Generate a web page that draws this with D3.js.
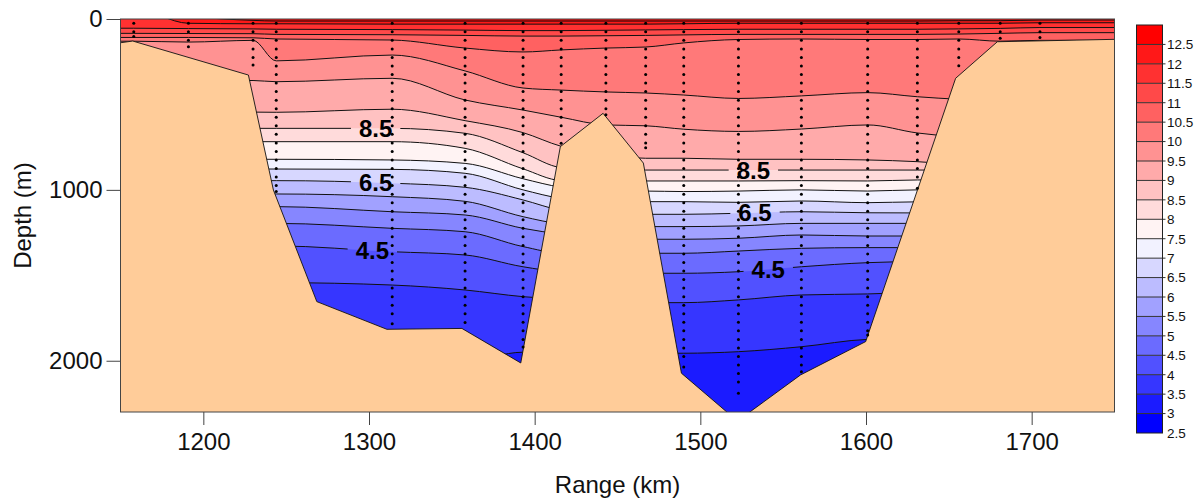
<!DOCTYPE html>
<html>
<head>
<meta charset="utf-8">
<script src="https://cdn.jsdelivr.net/npm/d3@7"></script>
<style>
  html, body { margin: 0; padding: 0; background: #ffffff; }
  svg { display: block; font-family: "Liberation Sans", Arial, Helvetica, sans-serif; }
</style>
</head>
<body>
<svg id="chart" width="1204" height="504"></svg>
<script>
// ---- Stations along the section ----
const stationRange = [1158, 1191, 1230, 1244, 1314, 1358, 1393, 1416, 1443, 1467, 1490, 1523, 1561, 1601, 1631, 1656, 1681, 1705]; // km
const stationDepth = [103, 162, 269, 1010, 1784, 1776, 1920, 727, 561, 754, 2036, 2190, 2065, 1850, 990, 273, 113, 109];     // deepest sample, m

// ---- Isotherm depths (m) at each station; negative = isotherm lies above the surface ----
const iso12_5 = [-120, -20, 8, 12, 12, 12, 12, 12, 12, 12, 12, 12, 12, 12, 12, 10, 10, 6];
const iso12_0 = [-60, 25, 28, 28, 30, 30, 30, 30, 30, 30, 28, 25, 25, 25, 25, 25, 25, 22];
const iso11_5 = [54, 56, 58, 60, 62, 65, 68, 68, 66, 64, 62, 60, 60, 60, 60, 58, 55, 50];
const iso11_0 = [84, 85, 86, 90, 92, 96, 100, 100, 98, 96, 93, 90, 90, 90, 90, 88, 84, 80];
const iso10_5 = [108, 108, 110, 117, 123, 170, 193, 181, 170, 164, 140, 120, 117, 120, 120, 117, 130, 125];
const iso10_0 = [130, 135, 125, 245, 211, 304, 404, 416, 427, 433, 445, 465, 450, 431, 455, 470, 480, 480];
const iso9_5  = [360, 360, 360, 367, 347, 474, 533, 575, 620, 625, 645, 658, 644, 620, 667, 690, 700, 700];
const iso9_0  = [540, 540, 545, 546, 528, 595, 665, 745, 790, 815, 815, 821, 821, 825, 835, 850, 850, 850];
const iso8_5  = [640, 640, 640, 640, 640, 669, 783, 870, 884, 884, 884, 884, 884, 884, 884, 884, 884, 884];
const iso8_0  = [718, 718, 718, 718, 718, 757, 877, 945, 948, 948, 948, 948, 946, 948, 942, 942, 942, 942];
const iso7_5  = [821, 821, 821, 821, 825, 845, 935, 985, 1007, 1007, 1010, 1007, 1000, 1007, 1000, 1000, 1000, 1000];
const iso7_0  = [878, 878, 878, 878, 880, 903, 1000, 1050, 1069, 1069, 1069, 1073, 1065, 1075, 1070, 1070, 1070, 1070];
const iso6_5  = [946, 946, 946, 946, 961, 985, 1059, 1120, 1143, 1143, 1143, 1137, 1128, 1134, 1135, 1135, 1135, 1135];
const iso6_0  = [1024, 1024, 1024, 1024, 1040, 1067, 1157, 1200, 1215, 1215, 1215, 1211, 1196, 1196, 1196, 1196, 1196, 1196];
const iso5_5  = [1098, 1098, 1098, 1098, 1128, 1147, 1225, 1260, 1289, 1289, 1289, 1283, 1264, 1270, 1270, 1270, 1270, 1270];
const iso5_0  = [1196, 1196, 1196, 1196, 1225, 1245, 1332, 1370, 1371, 1371, 1371, 1358, 1342, 1338, 1338, 1338, 1338, 1338];
const iso4_5  = [1328, 1328, 1328, 1328, 1362, 1381, 1450, 1480, 1488, 1488, 1488, 1479, 1450, 1426, 1420, 1420, 1420, 1420];
const iso4_0  = [1543, 1543, 1543, 1543, 1557, 1586, 1625, 1640, 1660, 1660, 1660, 1644, 1615, 1609, 1600, 1600, 1600, 1600];
const iso3_5  = [2000, 2000, 2000, 2000, 2000, 2000, 1950, 1955, 1956, 1956, 1956, 1947, 1918, 1875, 1870, 1870, 1870, 1870];
const iso3_0  = [2600, 2600, 2600, 2600, 2600, 2600, 2600, 2600, 2600, 2600, 2600, 2600, 2600, 2600, 2600, 2600, 2600, 2600];

// ---- Seafloor profile ----
const bottomRange = [1150, 1157.4, 1227.2, 1242.3, 1268.5, 1310.8, 1356.1, 1391.6, 1415.5, 1441.3, 1465.6, 1488.6, 1522.4, 1560.5, 1599.8, 1654.1, 1679.3, 1750];
const bottomDepth = [139, 129, 328, 1001, 1654, 1816, 1811, 2013, 747, 552, 843, 2073, 2353, 2083, 1888, 347, 133, 119];

// ---- Axes, colour bar, contour labels ----
const rangeTicks = [1200, 1300, 1400, 1500, 1600, 1700];
const depthTicks = [0, 1000, 2000];
const colorBreaks = [2.5, 3, 3.5, 4, 4.5, 5, 5.5, 6, 6.5, 7, 7.5, 8, 8.5, 9, 9.5, 10, 10.5, 11, 11.5, 12, 12.5, 13];
const labelRange = [1304, 1304, 1302, 1532, 1533, 1541];
const labelLevel = [8.5, 6.5, 4.5, 8.5, 6.5, 4.5];

const isotherms = [
  { level: 12.5, depth: iso12_5 }, { level: 12.0, depth: iso12_0 }, { level: 11.5, depth: iso11_5 },
  { level: 11.0, depth: iso11_0 }, { level: 10.5, depth: iso10_5 }, { level: 10.0, depth: iso10_0 },
  { level: 9.5, depth: iso9_5 },   { level: 9.0, depth: iso9_0 },   { level: 8.5, depth: iso8_5 },
  { level: 8.0, depth: iso8_0 },   { level: 7.5, depth: iso7_5 },   { level: 7.0, depth: iso7_0 },
  { level: 6.5, depth: iso6_5 },   { level: 6.0, depth: iso6_0 },   { level: 5.5, depth: iso5_5 },
  { level: 5.0, depth: iso5_0 },   { level: 4.5, depth: iso4_5 },   { level: 4.0, depth: iso4_0 },
  { level: 3.5, depth: iso3_5 },   { level: 3.0, depth: iso3_0 }
];

// ---- Layout ----
const plot = { left: 120.5, right: 1114.5, top: 19, bottom: 412 };
const x = d3.scaleLinear().domain([1150, 1750]).range([plot.left, plot.right]);
const y = d3.scaleLinear().domain([0, 2300]).range([plot.top, plot.bottom]);
const tempColor = d3.scaleLinear().domain([2.75, 7.5, 12.75]).range(["#0000ff", "#ffffff", "#ff0000"]);
const bandFill = lo => tempColor(lo + 0.25);   // colour of the band [lo, lo + 0.5]

const svg = d3.select("#chart");
const defs = svg.append("defs");
defs.append("clipPath").attr("id", "plotClip")
  .append("rect")
  .attr("x", plot.left).attr("y", plot.top)
  .attr("width", plot.right - plot.left).attr("height", plot.bottom - plot.top);

// isotherm points, held flat out to the section ends
const isoPoints = depth => {
  const p = stationRange.map((r, i) => [r, depth[i]]);
  return [[1150, depth[0]], ...p, [1750, depth[depth.length - 1]]];
};

const field = svg.append("g").attr("clip-path", "url(#plotClip)");

// warmest band as background, then each colder band painted below its isotherm
field.append("rect")
  .attr("x", plot.left).attr("y", plot.top)
  .attr("width", plot.right - plot.left).attr("height", plot.bottom - plot.top)
  .attr("fill", bandFill(12.5));

const below = d3.area()
  .x(d => x(d[0]))
  .y0(y(2700))
  .y1(d => y(d[1]))
  .curve(d3.curveMonotoneX);

isotherms.forEach(iso => {
  field.append("path")
    .attr("d", below(isoPoints(iso.depth)))
    .attr("fill", bandFill(iso.level - 0.5));
});

// contour lines (masked where the labels sit)
const mask = defs.append("mask").attr("id", "labelMask").attr("maskUnits", "userSpaceOnUse")
  .attr("x", 0).attr("y", 0).attr("width", 1204).attr("height", 504);
mask.append("rect").attr("x", 0).attr("y", 0).attr("width", 1204).attr("height", 504).attr("fill", "#fff");

const lineGen = d3.line().x(d => x(d[0])).y(d => y(d[1])).curve(d3.curveMonotoneX);
const lines = field.append("g").attr("mask", "url(#labelMask)");
const linePaths = {};
isotherms.filter(iso => iso.level >= 3.5).forEach(iso => {
  linePaths[iso.level] = lines.append("path")
    .attr("d", lineGen(isoPoints(iso.depth)))
    .attr("fill", "none")
    .attr("stroke", "#111")
    .attr("stroke-width", 1);
});

// seafloor
const seafloor = [[1150, 2700], ...bottomRange.map((r, i) => [r, bottomDepth[i]]), [1750, 2700]];
field.append("path")
  .attr("d", d3.line().x(d => x(d[0])).y(d => y(d[1]))(seafloor) + "Z")
  .attr("fill", "#ffcc99")
  .attr("stroke", "#111")
  .attr("stroke-width", 0.9);

// sample positions of each cast
const dots = svg.append("g");
stationRange.forEach((r, i) => {
  const zs = [];
  for (let z = 25; z < stationDepth[i] - 15; z += 50) zs.push(z);
  zs.push(stationDepth[i]);
  zs.forEach(z => {
    dots.append("circle").attr("cx", x(r)).attr("cy", y(z)).attr("r", 1.5).attr("fill", "#000");
  });
});

// contour labels placed on their isotherm
const labels = svg.append("g");
labelLevel.forEach((lev, k) => {
  const node = linePaths[lev].node();
  const tx = x(labelRange[k]);
  const total = node.getTotalLength();
  let best = null;
  for (let s = 0; s <= total; s += 0.5) {
    const p = node.getPointAtLength(s);
    if (!best || Math.abs(p.x - tx) < Math.abs(best.x - tx)) best = p;
  }
  const t = labels.append("text")
    .attr("x", tx).attr("y", best.y)
    .attr("dy", "0.36em")
    .attr("text-anchor", "middle")
    .attr("font-size", 24)
    .attr("font-weight", "bold")
    .attr("fill", "#000")
    .text(lev.toFixed(1));
  const w = t.node().getComputedTextLength();
  mask.append("rect")
    .attr("x", tx - w / 2 - 8).attr("y", best.y - 5)
    .attr("width", w + 16).attr("height", 10)
    .attr("fill", "#000");
});

// frame
svg.append("rect")
  .attr("x", plot.left).attr("y", plot.top)
  .attr("width", plot.right - plot.left).attr("height", plot.bottom - plot.top)
  .attr("fill", "none").attr("stroke", "#444").attr("stroke-width", 1);

// axes
const xAxis = svg.append("g")
  .attr("transform", `translate(0,${plot.bottom})`)
  .call(d3.axisBottom(x).tickValues(rangeTicks).tickSize(13).tickPadding(8).tickFormat(d3.format("d")));
xAxis.select(".domain").remove();
xAxis.attr("font-size", 24).attr("font-family", null).attr("color", "#444");
xAxis.selectAll("text").attr("fill", "#111");

const yAxis = svg.append("g")
  .attr("transform", `translate(${plot.left},0)`)
  .call(d3.axisLeft(y).tickValues(depthTicks).tickSize(14).tickPadding(4).tickFormat(d3.format("d")));
yAxis.select(".domain").remove();
yAxis.attr("font-size", 24).attr("font-family", null).attr("color", "#444");
yAxis.selectAll("text").attr("fill", "#111");

svg.append("text")
  .attr("x", (plot.left + plot.right) / 2).attr("y", 493)
  .attr("text-anchor", "middle").attr("font-size", 24).attr("fill", "#111")
  .text("Range (km)");
svg.append("text")
  .attr("transform", `translate(31,${(plot.top + plot.bottom) / 2}) rotate(-90)`)
  .attr("text-anchor", "middle").attr("font-size", 24).attr("fill", "#111")
  .text("Depth (m)");

// colour bar
const cb = { x: 1136.5, w: 26 };
const cy = d3.scaleLinear().domain([2.5, 13]).range([433, 25]);
const bar = svg.append("g");
colorBreaks.slice(0, -1).forEach(lo => {
  bar.append("rect")
    .attr("x", cb.x).attr("y", cy(lo + 0.5))
    .attr("width", cb.w).attr("height", cy(lo) - cy(lo + 0.5))
    .attr("fill", bandFill(lo));
});
colorBreaks.slice(1, -1).forEach(v => {
  bar.append("line")
    .attr("x1", cb.x).attr("x2", cb.x + cb.w + 3)
    .attr("y1", cy(v)).attr("y2", cy(v))
    .attr("stroke", "#333").attr("stroke-width", 1);
});
bar.append("rect")
  .attr("x", cb.x).attr("y", cy(13))
  .attr("width", cb.w).attr("height", cy(2.5) - cy(13))
  .attr("fill", "none").attr("stroke", "#222").attr("stroke-width", 1);
colorBreaks.slice(0, -1).forEach(v => {
  bar.append("text")
    .attr("x", cb.x + cb.w + 4.5).attr("y", cy(v))
    .attr("dy", "0.36em")
    .attr("font-size", 13.5).attr("fill", "#111")
    .text(v);
});
</script>
</body>
</html>
